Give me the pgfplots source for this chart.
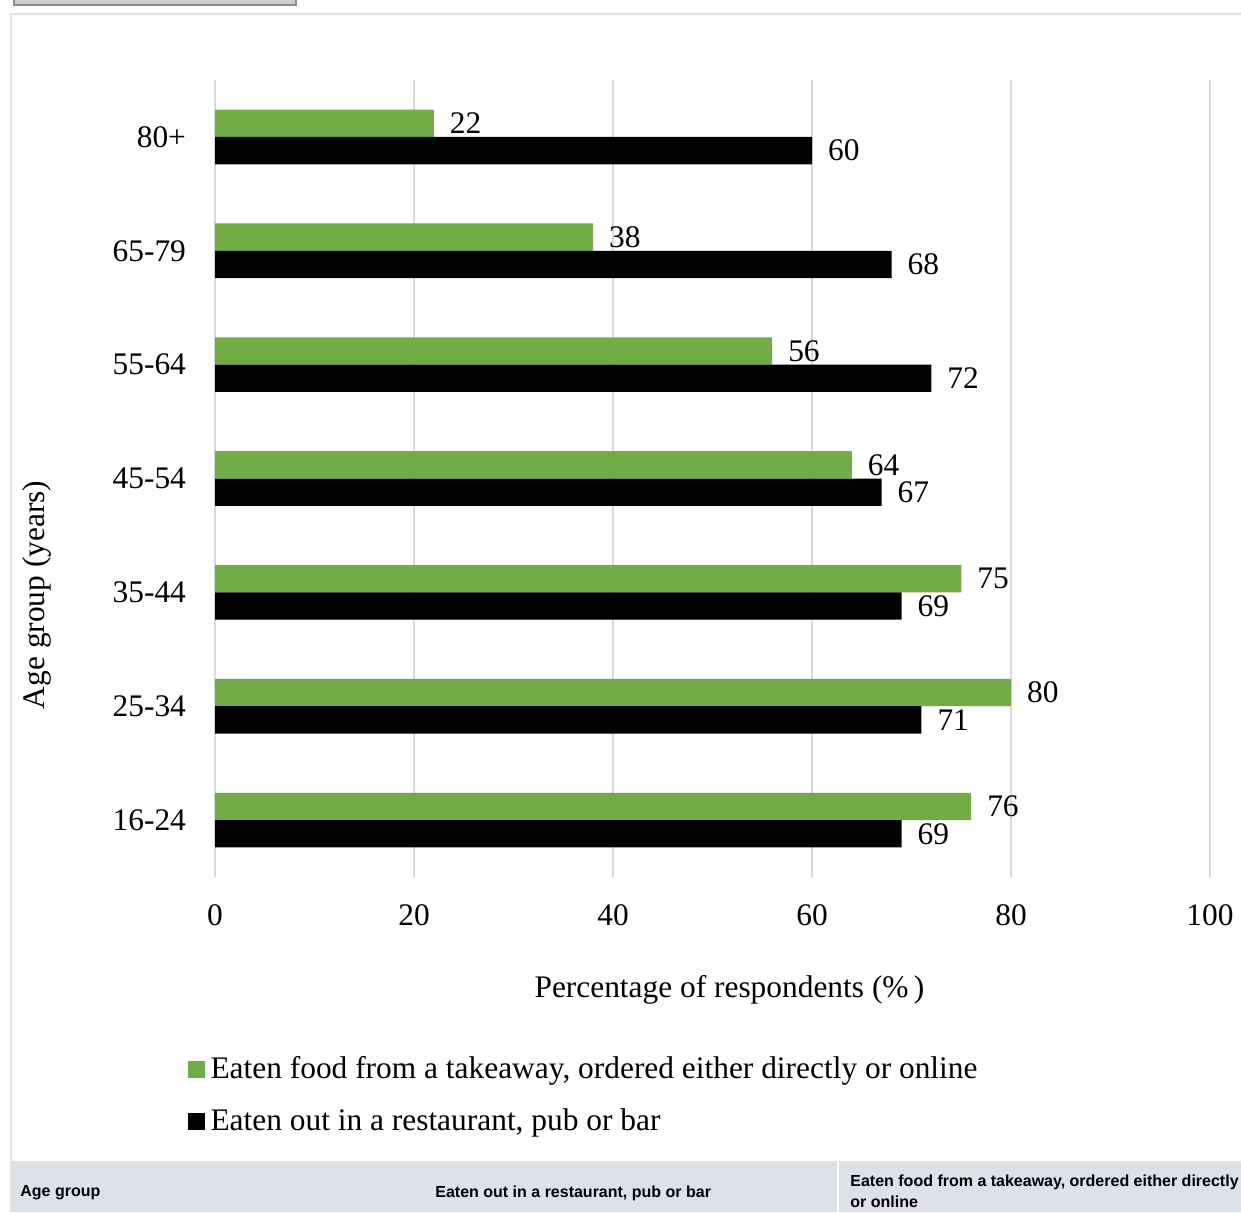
\documentclass[border=0pt]{standalone}
\usepackage{fontspec}
\setmainfont{Liberation Serif}
\newfontfamily\sansfont{Liberation Sans}
\usepackage{pgfplots}
\pgfplotsset{compat=1.18}
\definecolor{tkgreen}{HTML}{70AD47}
\definecolor{gridgray}{HTML}{D9D9D9}
\definecolor{framegray}{HTML}{E3E3E3}
\definecolor{headgray}{HTML}{DEE2E6}
\newcommand{\chartfont}{\fontsize{15.7}{18.5}\selectfont}
\begin{document}
\begin{tikzpicture}
\begin{scope}[x=0.5pt,y=-0.5pt]
\useasboundingbox (0,0) rectangle (1241,1212);
\fill[white] (0,0) rectangle (1241,1212);
\fill[black!20] (14,0) rectangle (296,5);
\draw[black!45, line width=0.8pt] (14,0) -- (14,5) -- (296,5) -- (296,0);
\draw[framegray, line width=1pt] (11,1212) -- (11,14) -- (1241,14);
\fill[headgray] (11,1161) rectangle (1241,1212);
\draw[white, line width=0.6pt] (838,1161) -- (838,1212);
\node[anchor=west, inner sep=0pt, font=\sansfont\bfseries\fontsize{8}{10}\selectfont] at (20,1193) {Age group};
\node[anchor=west, inner sep=0pt, font=\sansfont\bfseries\fontsize{8}{10}\selectfont] at (435,1193) {Eaten out in a restaurant, pub or bar};
\node[anchor=west, inner sep=0pt, font=\sansfont\bfseries\fontsize{8}{10}\selectfont] at (850,1182) {Eaten food from a takeaway, ordered either directly};
\node[anchor=west, inner sep=0pt, font=\sansfont\bfseries\fontsize{8}{10}\selectfont] at (850,1202) {or online};
\end{scope}
\begin{axis}[
  at={(107.5pt,-438.5pt)}, anchor=south west,
  scale only axis, width=497.5pt, height=398.5pt,
  xbar, bar width=0.24,
  xmin=0, xmax=100, ymin=-0.5, ymax=6.5,
  xtick={0,20,...,100},
  ytick={0,1,2,3,4,5,6},
  yticklabels={16-24,25-34,35-44,45-54,55-64,65-79,80+},
  xmajorgrids, grid style={gridgray, line width=0.7pt},
  axis line style={draw=none},
  major tick length=0pt,
  tick label style={font=\chartfont},
  /pgf/number format/assume math mode=true,
  xticklabel shift=10.5pt,
  yticklabel shift=11pt,
  xlabel={Percentage of respondents (\%\,)},
  ylabel={Age group (years)},
  label style={font=\chartfont},
  xlabel style={at={(axis description cs:0.517,-0.141)}, anchor=center},
  ylabel style={at={(axis description cs:-0.179,0.354)}, anchor=center, rotate=0},
  nodes near coords,
  nodes near coords style={font=\chartfont, anchor=west, xshift=4.5pt, text=black},
  legend style={at={(axis description cs:-0.028,-0.22)}, anchor=north west, draw=none, fill=none, font=\chartfont, row sep=9.5pt, inner sep=0pt, nodes={inner xsep=3pt}},
  legend cell align=left,
  legend image code/.code={\fill[#1] (0pt,-4.25pt) rectangle (8.5pt,4.25pt);},
]
\addplot[fill=tkgreen, draw=none, bar shift=0.12] coordinates {(76,0) (80,1) (75,2) (64,3) (56,4) (38,5) (22,6)};
\addlegendentry{Eaten food from a takeaway, ordered either directly or online}
\addplot[fill=black, draw=none, bar shift=-0.12] coordinates {(69,0) (71,1) (69,2) (67,3) (72,4) (68,5) (60,6)};
\addlegendentry{Eaten out in a restaurant, pub or bar}
\end{axis}
\end{tikzpicture}
\end{document}
